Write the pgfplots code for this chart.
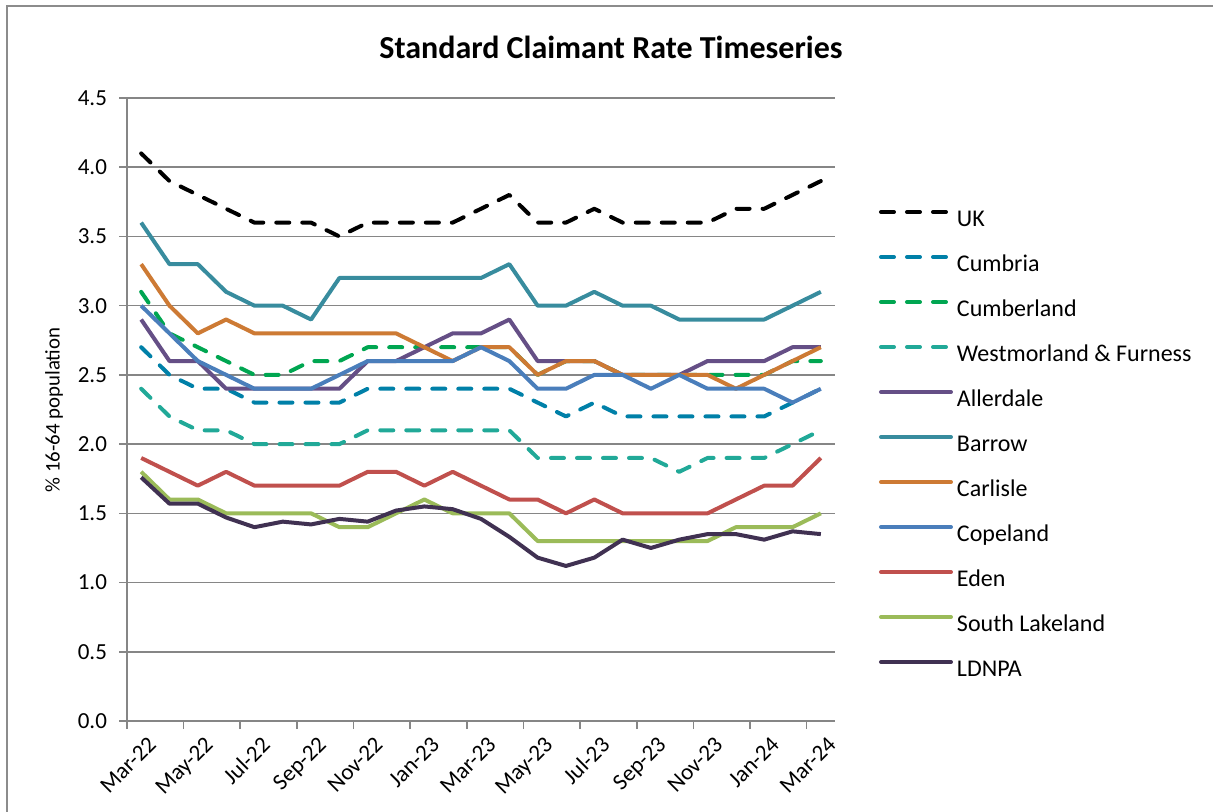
\documentclass[border=0pt]{standalone}
\usepackage{fontspec}
\setmainfont{Carlito}
\usepackage{pgfplots}
\pgfplotsset{compat=1.18}
\usepackage{pgfplotstable}

\definecolor{gridgray}{RGB}{134,134,134}
\definecolor{framegray}{RGB}{140,140,140}
\definecolor{cUK}{RGB}{0,0,0}
\definecolor{cCumbria}{RGB}{0,128,168}
\definecolor{cCumberland}{RGB}{0,166,81}
\definecolor{cWF}{RGB}{33,169,152}
\definecolor{cAllerdale}{RGB}{101,79,134}
\definecolor{cBarrow}{RGB}{56,140,158}
\definecolor{cCarlisle}{RGB}{205,122,52}
\definecolor{cCopeland}{RGB}{74,126,187}
\definecolor{cEden}{RGB}{192,80,77}
\definecolor{cSL}{RGB}{155,187,89}
\definecolor{cLDNPA}{RGB}{64,49,82}

\pgfplotstableread{
x  UK  Cumbria Cumberland WF  Allerdale Barrow Carlisle Copeland Eden SL  LDNPA
0  4.1 2.7     3.1        2.4 2.9       3.6    3.3      3.0      1.9  1.8 1.76
1  3.9 2.5     2.8        2.2 2.6       3.3    3.0      2.8      1.8  1.6 1.57
2  3.8 2.4     2.7        2.1 2.6       3.3    2.8      2.6      1.7  1.6 1.57
3  3.7 2.4     2.6        2.1 2.4       3.1    2.9      2.5      1.8  1.5 1.47
4  3.6 2.3     2.5        2.0 2.4       3.0    2.8      2.4      1.7  1.5 1.40
5  3.6 2.3     2.5        2.0 2.4       3.0    2.8      2.4      1.7  1.5 1.44
6  3.6 2.3     2.6        2.0 2.4       2.9    2.8      2.4      1.7  1.5 1.42
7  3.5 2.3     2.6        2.0 2.4       3.2    2.8      2.5      1.7  1.4 1.46
8  3.6 2.4     2.7        2.1 2.6       3.2    2.8      2.6      1.8  1.4 1.44
9  3.6 2.4     2.7        2.1 2.6       3.2    2.8      2.6      1.8  1.5 1.52
10 3.6 2.4     2.7        2.1 2.7       3.2    2.7      2.6      1.7  1.6 1.55
11 3.6 2.4     2.7        2.1 2.8       3.2    2.6      2.6      1.8  1.5 1.53
12 3.7 2.4     2.7        2.1 2.8       3.2    2.7      2.7      1.7  1.5 1.46
13 3.8 2.4     2.7        2.1 2.9       3.3    2.7      2.6      1.6  1.5 1.33
14 3.6 2.3     2.5        1.9 2.6       3.0    2.5      2.4      1.6  1.3 1.18
15 3.6 2.2     2.6        1.9 2.6       3.0    2.6      2.4      1.5  1.3 1.12
16 3.7 2.3     2.6        1.9 2.6       3.1    2.6      2.5      1.6  1.3 1.18
17 3.6 2.2     2.5        1.9 2.5       3.0    2.5      2.5      1.5  1.3 1.31
18 3.6 2.2     2.5        1.9 2.5       3.0    2.5      2.4      1.5  1.3 1.25
19 3.6 2.2     2.5        1.8 2.5       2.9    2.5      2.5      1.5  1.3 1.31
20 3.6 2.2     2.5        1.9 2.6       2.9    2.5      2.4      1.5  1.3 1.35
21 3.7 2.2     2.5        1.9 2.6       2.9    2.4      2.4      1.6  1.4 1.35
22 3.7 2.2     2.5        1.9 2.6       2.9    2.5      2.4      1.7  1.4 1.31
23 3.8 2.3     2.6        2.0 2.7       3.0    2.6      2.3      1.7  1.4 1.37
24 3.9 2.4     2.6        2.1 2.7       3.1    2.7      2.4      1.9  1.5 1.35
}\data

\begin{document}
\begin{tikzpicture}
\useasboundingbox (0pt,0pt) rectangle (606.5pt,405.5pt);
\draw[framegray, line width=1pt] (3.5pt,-10pt) -- (3.5pt,402.5pt) -- (620pt,402.5pt);
\node[font=\bfseries\fontsize{16}{19}\selectfont] at (305.5pt,382pt) {Standard Claimant Rate Timeseries};
\node[rotate=90, font=\fontsize{10.4}{12}\selectfont] at (27pt,200.5pt) {\% 16-64 population};
\begin{axis}[
  at={(63.5pt,45pt)}, anchor=south west,
  scale only axis, width=354pt, height=311.5pt,
  xmin=-0.5, xmax=24.5, ymin=0, ymax=4.5,
  axis lines*=left,
  axis line style={draw=gridgray, line width=0.8pt},
  ymajorgrids, grid style={draw=gridgray, line width=0.8pt},
  ytick={0,0.5,...,4.5},
  yticklabel style={xshift=-2.5pt, /pgf/number format/fixed, /pgf/number format/fixed zerofill, /pgf/number format/precision=1, /pgf/number format/assume math mode=true},
  tick label style={font=\fontsize{11.5}{13}\selectfont, text=black},
  tick align=outside,
  major tick length=4pt, minor tick length=4pt,
  y tick style={draw=gridgray, line width=0.8pt},
  xtick={0,2,...,24},
  xticklabels={Mar-22,May-22,Jul-22,Sep-22,Nov-22,Jan-23,Mar-23,May-23,Jul-23,Sep-23,Nov-23,Jan-24,Mar-24},
  major x tick style={draw=none},
  minor xtick={-0.5,1.5,...,23.5},
  minor x tick style={draw=gridgray, line width=0.8pt},
  xticklabel style={rotate=45, anchor=north east, inner sep=0pt, xshift=0pt, yshift=-4pt},
  every axis plot/.append style={line width=2pt, line join=round},
  legend cell align=left,
  legend style={at={(1.0593,0.8218)}, anchor=north west, draw=none, fill=none,
    inner sep=0pt, outer sep=0pt, row sep=11.5pt, column sep=1pt,
    font=\fontsize{12}{14}\selectfont,
    nodes={inner sep=0pt, text height=8.5pt, text depth=2.5pt}},
  legend image code/.code={\draw[#1, line cap=round] (1pt,4pt) -- (36pt,4pt); \path (0pt,0pt) (37pt,0pt);},
]
\addplot[cUK, line cap=round, dash pattern=on 6.5pt off 6.5pt] table[x=x,y=UK]{\data};
\addlegendentry{UK}
\addplot[cCumbria, line cap=round, dash pattern=on 6.5pt off 6.5pt] table[x=x,y=Cumbria]{\data};
\addlegendentry{Cumbria}
\addplot[cCumberland, line cap=round, dash pattern=on 6.5pt off 6.5pt] table[x=x,y=Cumberland]{\data};
\addlegendentry{Cumberland}
\addplot[cWF, line cap=round, dash pattern=on 6.5pt off 6.5pt] table[x=x,y=WF]{\data};
\addlegendentry{Westmorland \& Furness}
\addplot[cAllerdale] table[x=x,y=Allerdale]{\data};
\addlegendentry{Allerdale}
\addplot[cBarrow] table[x=x,y=Barrow]{\data};
\addlegendentry{Barrow}
\addplot[cCarlisle] table[x=x,y=Carlisle]{\data};
\addlegendentry{Carlisle}
\addplot[cCopeland] table[x=x,y=Copeland]{\data};
\addlegendentry{Copeland}
\addplot[cEden] table[x=x,y=Eden]{\data};
\addlegendentry{Eden}
\addplot[cSL] table[x=x,y=SL]{\data};
\addlegendentry{South Lakeland}
\addplot[cLDNPA] table[x=x,y=LDNPA]{\data};
\addlegendentry{LDNPA}
\end{axis}
\end{tikzpicture}
\end{document}
